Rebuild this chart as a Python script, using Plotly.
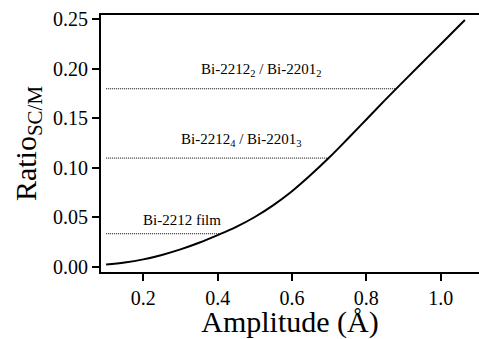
import numpy as np
import plotly.graph_objects as go

# Model curve: SC/M ratio versus modulation amplitude
amplitude = [0.10, 0.15, 0.20, 0.25, 0.30, 0.35, 0.40, 0.45, 0.50, 0.55,
             0.60, 0.65, 0.70, 0.75, 0.80, 0.85, 0.90, 0.95, 1.00, 1.065]
ratio = [0.0025, 0.0045, 0.0077, 0.0122, 0.0178, 0.0245, 0.0322, 0.0405, 0.0505, 0.0625,
         0.0765, 0.0928, 0.1105, 0.1295, 0.1490, 0.1685, 0.1875, 0.2063, 0.2250, 0.2495]

# Measured ratios for each sample (horizontal reference levels)
sample_names = ["Bi-2212<sub>2</sub> / Bi-2201<sub>2</sub>",
                "Bi-2212<sub>4</sub> / Bi-2201<sub>3</sub>",
                "Bi-2212 film"]
sample_ratio = [0.18, 0.11, 0.0336]
label_x = [0.518, 0.464, 0.305]
label_y = [0.199, 0.128, 0.0475]

FONT = "Liberation Serif, Times New Roman, serif"

fig = go.Figure()

x0 = amplitude[0]
for level in sample_ratio:
    x_end = float(np.interp(level, ratio, amplitude))
    fig.add_trace(go.Scatter(
        x=[x0, x_end], y=[level, level], mode="lines",
        line=dict(color="black", width=1, dash="1px,1px"),
        hoverinfo="skip", showlegend=False))

fig.add_trace(go.Scatter(
    x=amplitude, y=ratio, mode="lines", line_shape="spline",
    line=dict(color="black", width=2), showlegend=False))

for name, lx, ly in zip(sample_names, label_x, label_y):
    fig.add_annotation(x=lx, y=ly, text=name, showarrow=False,
                       xanchor="center", yanchor="middle",
                       font=dict(family=FONT, size=15, color="black"))

fig.update_layout(
    width=479, height=339,
    margin=dict(l=101, r=0, t=15, b=67),
    paper_bgcolor="white", plot_bgcolor="white",
    font=dict(family=FONT, color="black"),
    showlegend=False,
)
fig.update_xaxes(
    range=[0.0862, 1.103], tickvals=[0.2, 0.4, 0.6, 0.8, 1.0],
    ticktext=["0.2", "0.4", "0.6", "0.8", "1.0"],
    ticks="outside", ticklen=7, tickwidth=2, tickcolor="black",
    showline=True, linewidth=2, linecolor="black", mirror=True,
    showgrid=False, zeroline=False, automargin=False,
    tickfont=dict(family=FONT, size=20, color="black"),
    title=dict(text="Amplitude (Å)", font=dict(family=FONT, size=30, color="black"), standoff=6),
)
fig.update_yaxes(
    range=[-0.00505, 0.2545], tickvals=[0.0, 0.05, 0.10, 0.15, 0.20, 0.25],
    ticktext=["0.00", "0.05", "0.10", "0.15", "0.20", "0.25"],
    ticks="outside", ticklen=7, tickwidth=2, tickcolor="black",
    showline=True, linewidth=2, linecolor="black", mirror=False,
    showgrid=False, zeroline=False, automargin=False,
    tickfont=dict(family=FONT, size=20, color="black"),
    title=dict(text="Ratio<sub>SC/M</sub>", font=dict(family=FONT, size=30, color="black"), standoff=8),
)

fig.write_html("out.html")
